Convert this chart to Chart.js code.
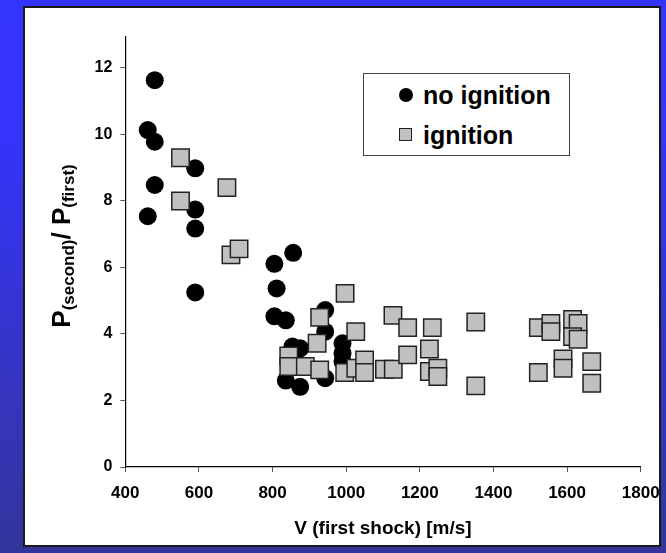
<!DOCTYPE html>
<html lang="en">
<head>
  <meta charset="UTF-8" />
  <title>Pressure ratio vs first shock velocity</title>
  <style>
    html, body { margin: 0; padding: 0; }
    body {
      width: 666px; height: 553px; overflow: hidden; position: relative;
      background: linear-gradient(to bottom, #3434ff 0%, #3434fb 25%, #3535c0 70%, #34349c 100%);
      font-family: "Liberation Sans", Arial, sans-serif;
    }
    .panel {
      position: absolute; left: 23px; top: 6px; width: 638px; height: 541px;
      box-sizing: border-box; background: #fff; border: 2px solid #1a1a1a;
    }
    .chart-wrap { position: absolute; left: 0; top: 0; width: 666px; height: 553px; }
    .legend {
      position: absolute; left: 363px; top: 73px; width: 207px; height: 83px;
      box-sizing: border-box; border: 1px solid #444; background: #fff;
      font-weight: bold; font-size: 25px; color: #000; pointer-events: none;
    }
    .legend .row { position: absolute; left: 0; height: 30px; line-height: 30px; white-space: nowrap; }
    .legend .mark { position: absolute; left: 35px; top: 8px; width: 13px; height: 13px; box-sizing: border-box; }
    .legend .dot { background: #000; border-radius: 50%; width: 14px; height: 14px; }
    .legend .sq { background: #c0c0c0; border: 1px solid #222; }
    .legend .txt { position: absolute; left: 59px; top: 0; }
  </style>
</head>
<body>
  <div class="panel"></div>
  <div class="chart-wrap"><canvas id="ratioChart"></canvas></div>
  <div class="legend">
    <div class="row" style="top:6px"><span class="mark dot"></span><span class="txt">no ignition</span></div>
    <div class="row" style="top:46px"><span class="mark sq"></span><span class="txt">ignition</span></div>
  </div>

<script src="https://cdn.jsdelivr.net/npm/chart.js"></script>
<script>
  // values
  const noIgnitionV     = [480, 461, 480, 590, 480, 461, 590, 590, 856, 805, 811, 590, 805, 836, 943, 943, 854, 875, 990, 990, 990, 836, 875, 943];
  const noIgnitionRatio = [11.63, 10.13, 9.78, 8.98, 8.48, 7.54, 7.74, 7.17, 6.44, 6.11, 5.37, 5.25, 4.53, 4.41, 4.72, 4.07, 3.62, 3.57, 3.72, 3.42, 3.17, 2.60, 2.41, 2.67];

  const ignitionV     = [550, 550, 676, 687, 709, 997, 928, 921, 844, 844, 889, 928, 996, 1026, 1026, 1050, 1050, 1104, 1128, 1127, 1167, 1167, 1234, 1226, 1226, 1249, 1249, 1352, 1352, 1522, 1556, 1556, 1615, 1630, 1615, 1630, 1589, 1589, 1522, 1667, 1667];
  const ignitionRatio = [9.30, 8.00, 8.40, 6.38, 6.56, 5.22, 4.50, 3.72, 3.34, 3.02, 3.02, 2.92, 2.84, 4.07, 2.97, 3.22, 2.84, 2.94, 2.94, 4.56, 4.19, 3.37, 4.19, 3.55, 2.87, 2.97, 2.72, 4.36, 2.44, 4.19, 4.32, 4.07, 4.44, 4.32, 3.92, 3.84, 3.25, 2.97, 2.84, 3.17, 2.52];

  const xTicks = [400, 600, 800, 1000, 1200, 1400, 1600, 1800];
  const yTicks = [0, 2, 4, 6, 8, 10, 12];

  const xTitle = 'V (first shock) [m/s]';
  const yTitleParts = [['P', 26, 0], ['(second)', 17, 4], ['/ P', 26, 0], ['(first)', 17, 4]];

  const toPoints = (xs, ys) => xs.map((x, i) => ({ x: x, y: ys[i] }));

  // axis titles drawn by hand so the y title can carry subscripts
  const axisTitles = {
    id: 'axisTitles',
    afterDraw(chart) {
      const ctx = chart.ctx;
      const area = chart.chartArea;
      ctx.save();
      ctx.fillStyle = '#000';
      ctx.textBaseline = 'alphabetic';
      ctx.textAlign = 'center';
      ctx.font = 'bold 19px "Liberation Sans", Arial, sans-serif';
      ctx.fillText(xTitle, (area.left + area.right) / 2, 534);

      ctx.translate(70, 246);
      ctx.rotate(-Math.PI / 2);
      ctx.textAlign = 'left';
      let total = 0;
      yTitleParts.forEach(p => {
        ctx.font = 'bold ' + p[1] + 'px "Liberation Sans", Arial, sans-serif';
        total += ctx.measureText(p[0]).width;
      });
      let x = -total / 2;
      yTitleParts.forEach(p => {
        ctx.font = 'bold ' + p[1] + 'px "Liberation Sans", Arial, sans-serif';
        ctx.fillText(p[0], x, p[2]);
        x += ctx.measureText(p[0]).width;
      });
      ctx.restore();
    }
  };

  const ctx = document.getElementById('ratioChart').getContext('2d');
  const ratioChart = new Chart(ctx, {
    type: 'scatter',
    data: {
      datasets: [
        {
          label: 'no ignition',
          data: toPoints(noIgnitionV, noIgnitionRatio),
          pointStyle: 'circle',
          pointRadius: 9,
          pointHoverRadius: 9,
          backgroundColor: '#000',
          borderColor: '#000',
          borderWidth: 0,
          order: 2
        },
        {
          label: 'ignition',
          data: toPoints(ignitionV, ignitionRatio),
          pointStyle: 'rect',
          pointRadius: 12.3,
          pointHoverRadius: 12.3,
          backgroundColor: '#c0c0c0',
          borderColor: '#222',
          borderWidth: 1.5,
          order: 1
        }
      ]
    },
    options: {
      responsive: true,
      maintainAspectRatio: false,
      animation: false,
      layout: { padding: { left: 0, right: 25.3, top: 37, bottom: 0 } },
      plugins: {
        legend: { display: false },
        tooltip: { enabled: false }
      },
      scales: {
        x: {
          type: 'linear',
          min: 400,
          max: 1800,
          afterBuildTicks: scale => { scale.ticks = xTicks.map(v => ({ value: v })); },
          afterFit: scale => { scale.height = 86; scale.paddingLeft = 0; scale.paddingRight = 0; },
          grid: { drawOnChartArea: false, drawTicks: true, tickLength: 5, color: '#555' },
          border: { display: true, color: '#000', width: 1.2 },
          ticks: {
            color: '#000', padding: 11, maxRotation: 0,
            callback: v => String(v),
            font: { family: '"Liberation Sans", Arial, sans-serif', size: 17, weight: 'bold' }
          }
        },
        y: {
          type: 'linear',
          min: 0,
          max: 12.93,
          afterBuildTicks: scale => { scale.ticks = yTicks.map(v => ({ value: v })); },
          afterFit: scale => { scale.width = 125.3; scale.paddingTop = 0; scale.paddingBottom = 0; },
          grid: { drawOnChartArea: false, drawTicks: true, tickLength: 5, color: '#555' },
          border: { display: true, color: '#000', width: 1.2 },
          ticks: {
            color: '#000', padding: 8,
            callback: v => String(v),
            font: { family: '"Liberation Sans", Arial, sans-serif', size: 16, weight: 'bold' }
          }
        }
      }
    },
    plugins: [axisTitles]
  });
</script>
</body>
</html>
